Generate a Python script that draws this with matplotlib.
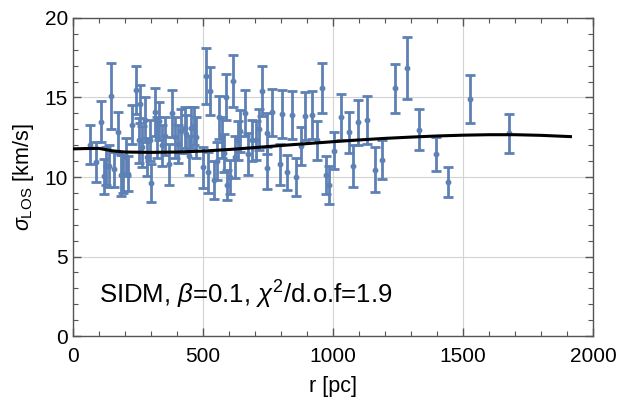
import numpy as np
import matplotlib.pyplot as plt
from matplotlib.ticker import MultipleLocator

plt.rcParams['font.family'] = ['Liberation Sans', 'DejaVu Sans']
plt.rcParams['mathtext.fontset'] = 'custom'
plt.rcParams['mathtext.rm'] = 'Liberation Sans'
plt.rcParams['mathtext.it'] = 'Liberation Sans:italic'

# data points (r in pc, sigma_LOS in km/s, error)
r_pc = [65, 87, 106, 119, 126, 137, 146, 158, 174, 184, 192, 205, 211, 227, 241,
        253, 257, 266, 276, 285, 295, 301, 314, 323, 331, 342, 352, 369, 382, 391,
        404, 416, 429, 436, 446, 455, 464, 474, 499, 510, 518, 527, 544, 554, 561,
        572, 580, 589, 593, 603, 617, 623, 633, 643, 662, 672, 687, 704, 716, 727,
        745, 748, 765, 796, 802, 822, 842, 857, 876, 891, 921, 940, 959, 972, 985,
        1004, 1029, 1061, 1078, 1097, 1132, 1161, 1189, 1238, 1286, 1330, 1396,
        1442, 1525, 1677]
sigma = [12.04, 10.94, 13.48, 10.04, 10.7, 10.7, 15.1, 10.5, 12.8, 10.1, 10.2, 11.25,
         10.2, 13.3, 15.46, 12.3, 14.6, 11.9, 13.6, 11.25, 12.3, 9.6, 14.1, 12.5, 13.5,
         12.0, 12.6, 10.8, 14.0, 12.5, 12.1, 12.9, 13.1, 12.7, 11.35, 13.1, 13.2, 12.5,
         10.6, 16.35, 10.3, 15.4, 9.8, 11.0, 13.75, 12.5, 11.5, 15.04, 9.5, 10.0, 16.04,
         11.25, 12.3, 12.9, 14.0, 11.45, 12.3, 12.3, 13.0, 15.4, 12.75, 10.56, 14.06,
         10.8, 13.96, 10.3, 13.9, 10.0, 11.95, 13.85, 13.9, 12.3, 15.6, 10.1, 9.5,
         11.65, 13.75, 12.8, 10.7, 13.44, 13.6, 10.46, 11.1, 15.58, 16.83, 12.98,
         11.46, 9.69, 14.9, 12.75]
sigma_err = [1.2, 1.25, 1.3, 1.1, 1.2, 1.3, 2.05, 1.1, 1.3, 1.3, 1.2, 1.2, 1.1, 1.2, 1.5,
             1.4, 1.2, 1.3, 1.4, 1.2, 1.3, 1.2, 1.5, 1.3, 1.2, 1.3, 1.2, 1.3, 1.5, 1.3,
             1.2, 1.4, 1.3, 1.2, 1.2, 1.3, 1.2, 1.3, 1.3, 1.75, 1.3, 1.5, 1.2, 1.2, 1.35,
             1.3, 1.2, 1.45, 0.95, 1.1, 1.65, 1.3, 1.2, 1.3, 1.45, 1.3, 1.3, 1.2, 1.3, 1.55,
             1.3, 1.3, 1.5, 1.3, 1.5, 1.1, 1.5, 1.2, 1.2, 1.5, 1.5, 1.2, 1.55, 1.2, 1.2,
             1.15, 1.45, 1.3, 1.3, 1.4, 1.5, 1.4, 1.2, 1.55, 1.95, 1.27, 1.07, 0.94, 1.5,
             1.23]

# SIDM model curve
r_model = [0, 50, 100, 150, 200, 300, 400, 500, 600, 700, 800, 900, 1000, 1100,
           1200, 1300, 1400, 1500, 1600, 1700, 1800, 1913]
sigma_model = [11.77, 11.79, 11.8, 11.65, 11.57, 11.55, 11.57, 11.63, 11.73, 11.85,
               11.98, 12.1, 12.22, 12.33, 12.43, 12.51, 12.58, 12.63, 12.66, 12.66,
               12.62, 12.54]

fig = plt.figure(figsize=(6.21, 4.07), dpi=100)
ax = fig.add_axes([0.1175, 0.1744, 0.8375, 0.7814])

blue = "#5e81b5"
ax.errorbar(r_pc, sigma, yerr=sigma_err, fmt='o', ms=3.2, color=blue, ecolor=blue,
            elinewidth=2.0, capsize=3.4, capthick=2.0, zorder=3)
ax.plot(r_model, sigma_model, color="black", lw=2.2, zorder=4)

ax.set_xlim(0, 2000)
ax.set_ylim(0, 20)
ax.xaxis.set_major_locator(MultipleLocator(500))
ax.xaxis.set_minor_locator(MultipleLocator(100))
ax.yaxis.set_major_locator(MultipleLocator(5))
ax.yaxis.set_minor_locator(MultipleLocator(1))
ax.grid(True, which='major', color='#d3d3d3', lw=0.8)
ax.set_axisbelow(True)

ax.tick_params(which='both', direction='in', top=True, right=True, colors='#555555',
               labelcolor='black', labelsize=15)
ax.tick_params(which='major', length=6, width=1)
ax.tick_params(which='minor', length=3.5, width=0.8)
ax.tick_params(axis='x', which='major', pad=8)
for s in ax.spines.values():
    s.set_color('#555555')
    s.set_linewidth(1.0)

ax.set_xlabel("r [pc]", fontsize=15.5, labelpad=7)
ax.set_ylabel(r"$\sigma_{\rm LOS}$ [km/s]", fontsize=15.5, labelpad=6)

ax.text(100, 2.6, r"SIDM, $\beta$=0.1, $\chi^2$/d.o.f=1.9", fontsize=18.5, va='center')

fig.savefig("out.png", dpi=100, facecolor="white")
